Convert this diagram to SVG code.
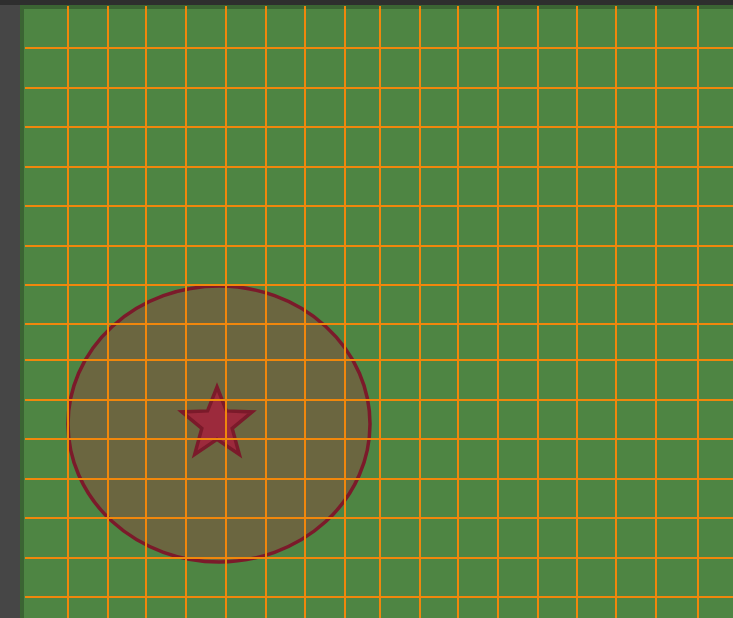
<svg xmlns="http://www.w3.org/2000/svg" width="733" height="618" viewBox="0 0 733 618">
<style>
.g{stroke:#f0870c;stroke-width:2;fill:none}
</style>
<rect x="0" y="0" width="733" height="618" fill="#464646"/>
<rect x="0" y="0" width="733" height="5" fill="#2e2e2e"/>
<rect x="20" y="5" width="713" height="613" fill="#3b6433"/>
<rect x="24" y="9" width="709" height="609" fill="#4e8543"/>
<g id="zone">
<ellipse cx="219" cy="424" rx="151" ry="138" fill="#6b6640" stroke="#7b1a2a" stroke-width="3.5"/>
</g>
<g id="star">
<polygon points="217,387 226.4,410.9 252.2,411.9 232.2,428.4 239.3,454.4 217,439.4 194.7,454.4 201.8,428.4 181.8,411.9 207.6,410.9" fill="#9c2a3c" stroke="#7b1a2a" stroke-width="3.5" stroke-linejoin="miter"/>
</g>
<g id="grid">
<path class="g" d="M68,6V618M108,6V618M146,6V618M186,6V618M226,6V618M266,6V618M305,6V618M345,6V618M380,6V618M420,6V618M458,6V618M498,6V618M538,6V618M577,6V618M616,6V618M656,6V618M698,6V618"/>
<path class="g" d="M25,48H733M25,88H733M25,127H733M25,167H733M25,206H733M25,246H733M25,285H733M25,324H733M25,360H733M25,400H733M25,439H733M25,479H733M25,518H733M25,558H733M25,597H733"/>
</g>
</svg>
